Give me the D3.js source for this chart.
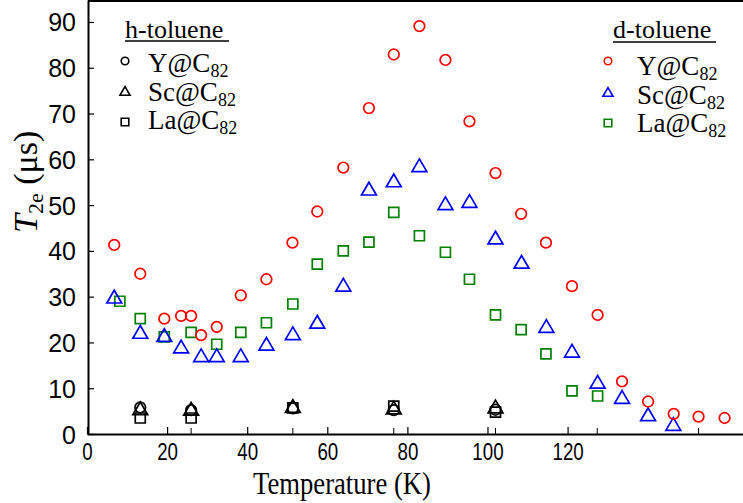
<!DOCTYPE html>
<html><head><meta charset="utf-8">
<script src="https://cdn.jsdelivr.net/npm/d3@7"></script>
<style>
html,body{margin:0;padding:0;background:#fff;}
svg{display:block;}
</style></head>
<body>
<svg id="chart" width="743" height="503"></svg>
<script>
// ---- data (temperature values as read on the labelled axis) ----
const xTicks = [0, 20, 40, 60, 80, 100, 120];
const yTicks = [0, 10, 20, 30, 40, 50, 60, 70, 80, 90];
const ghostTicks = [26.0, 51.4, 76.6, 102.0, 127.4, 152.7];

const dY_T = [6.8,13.3,19.3,23.5,26.0,28.5,32.4,38.4,44.8,51.3,57.5,64.0,70.4,76.6,83.0,89.5,95.5,102.0,108.4,114.6,121.1,127.5,133.6,140.1,146.5,152.7,159.2];
const dY_V = [41.3,35.0,25.2,25.8,25.8,21.6,23.4,30.3,33.8,41.8,48.6,58.2,71.2,82.9,89.1,81.7,68.3,57.0,48.1,41.8,32.3,26.0,11.5,7.1,4.4,3.8,3.5];

const dSc_T = [6.8,13.3,19.3,23.5,28.5,32.4,38.4,44.8,51.4,57.5,64.0,70.4,76.6,83.0,89.5,95.5,102.0,108.5,114.7,121.1,127.5,133.6,140.1,146.4];
const dSc_V = [30.0,22.3,21.6,19.1,17.2,17.2,17.2,19.7,22.0,24.5,32.6,53.6,55.4,58.7,50.4,50.9,42.9,37.6,23.6,18.2,11.4,8.1,4.3,2.2];

const dLa_T = [8.2,13.3,19.3,26.0,32.4,38.4,44.8,51.4,57.5,64.0,70.4,76.6,83.0,89.5,95.5,102.0,108.4,114.6,121.1,127.5];
const dLa_V = [29.0,25.2,21.2,22.2,19.6,22.2,24.3,28.4,37.1,40.0,41.9,48.4,43.3,39.7,33.8,26.0,22.8,17.5,9.4,8.3];

const h_T = [13.3, 26.0, 51.4, 76.6, 102.0];
const hY_V = [5.8, 5.2, 5.6, 5.2, 5.3];
const hSc_V = [5.6, 5.5, 6.1, 5.8, 6.0];
const hLa_V = [3.5, 3.5, 5.7, 6.1, 4.8];

const legendNames = ["Y", "Sc", "La"];
const shapes = ["circle", "triangle", "square"];
const dColors = ["#ff0000", "#0000ff", "#008000"];

// ---- drawing ----
const svg = d3.select("#chart");
const x = d3.scaleLinear().domain([0, 163.8]).range([87, 743]);
const y = d3.scaleLinear().domain([0, 94.8]).range([434, 0]);
const serif = "'Liberation Serif', 'Times New Roman', serif";
const sans = "'Liberation Sans', Arial, Helvetica, sans-serif";

function shapePath(kind, s) {
  const p = d3.path();
  if (kind === "circle") { p.moveTo(s, 0); p.arc(0, 0, s, 0, 2 * Math.PI); }
  else if (kind === "square") { p.rect(-s, -s, 2 * s, 2 * s); }
  else { const w = s * 1.4, h = s * 1.2; p.moveTo(0, -h); p.lineTo(w, h); p.lineTo(-w, h); p.closePath(); }
  return p.toString();
}
const sizes = {circle: 5.3, square: 5.0, triangle: 5.3};

// axes
const gx = svg.append("g").attr("transform", "translate(0,434)")
  .call(d3.axisBottom(x).tickValues(xTicks).tickSizeInner(-7).tickSizeOuter(0).tickPadding(0).tickFormat(d3.format("d")));
gx.select(".domain").attr("stroke", "#000").attr("stroke-width", 2);
gx.selectAll(".tick line").attr("stroke", "#000").attr("stroke-width", 1.2);
gx.selectAll(".tick text").remove();
gx.selectAll(".tick").append("text")
  .attr("transform", "translate(0,25.5) scale(0.78,1)")
  .attr("text-anchor", "middle").attr("fill", "#000")
  .style("font-family", sans).style("font-size", "24px")
  .text(d => d);

// ghost ticks from the underlying plot
svg.append("g").selectAll("line").data(ghostTicks).join("line")
  .attr("x1", d => x(d)).attr("x2", d => x(d)).attr("y1", 428).attr("y2", 434)
  .attr("stroke", "#000").attr("stroke-width", 1);

const gy = svg.append("g").attr("transform", "translate(88,0)")
  .call(d3.axisLeft(y).tickValues(yTicks).tickSizeInner(-6).tickSizeOuter(0).tickPadding(12).tickFormat(d3.format("d")));
gy.select(".domain").attr("stroke", "#000").attr("stroke-width", 2);
gy.selectAll(".tick line").attr("stroke", "#000").attr("stroke-width", 1.2);
gy.selectAll(".tick text").attr("fill", "#000").attr("dy", "0.36em")
  .style("font-family", sans).style("font-size", "25px");

// top frame line
svg.append("line").attr("x1", 88).attr("x2", 743).attr("y1", 1).attr("y2", 1)
  .attr("stroke", "#000").attr("stroke-width", 2);

// axis titles
svg.append("text").attr("x", 342).attr("y", 494).attr("text-anchor", "middle")
  .attr("textLength", 178).attr("lengthAdjust", "spacingAndGlyphs")
  .style("font-family", serif).style("font-size", "32px").attr("fill", "#000")
  .text("Temperature (K)");

const yl = svg.append("text").attr("transform", "translate(37,233) rotate(-90)")
  .attr("text-anchor", "start").style("font-family", serif).attr("fill", "#000");
yl.append("tspan").style("font-style", "italic").style("font-size", "34px").text("T");
yl.append("tspan").style("font-size", "22px").attr("dy", 6).text("2e");
yl.append("tspan").style("font-size", "34px").attr("dy", -6).text(" (μs)");

// data
function drawSeries(T, V, kind, color) {
  svg.append("g").selectAll("path").data(T.map((t, i) => [t, V[i]])).join("path")
    .attr("d", shapePath(kind, sizes[kind]))
    .attr("transform", d => `translate(${x(d[0])},${y(d[1])})`)
    .attr("fill", "none").attr("stroke", color).attr("stroke-width", 1.7);
}
drawSeries(dLa_T, dLa_V, "square", dColors[2]);
drawSeries(dSc_T, dSc_V, "triangle", dColors[1]);
drawSeries(dY_T, dY_V, "circle", dColors[0]);
drawSeries(h_T, hLa_V, "square", "#000");
drawSeries(h_T, hSc_V, "triangle", "#000");
drawSeries(h_T, hY_V, "circle", "#000");

// legends
function legend(title, tx, ty, ulx1, ulx2, uly, mx, my, textX, baseY, colors) {
  svg.append("text").attr("x", tx).attr("y", ty).style("font-family", serif)
    .style("font-size", "26px").attr("fill", "#000").text(title);
  svg.append("line").attr("x1", ulx1).attr("x2", ulx2).attr("y1", uly).attr("y2", uly)
    .attr("stroke", "#000").attr("stroke-width", 1.3);
  legendNames.forEach((n, i) => {
    const k = shapes[i];
    svg.append("path").attr("d", shapePath(k, k === "triangle" ? 3.6 : 3.8))
      .attr("transform", `translate(${mx},${my[i]})`)
      .attr("fill", "none").attr("stroke", colors[i]).attr("stroke-width", 1.6);
    const t = svg.append("text").attr("x", textX).attr("y", baseY + i * 28.5)
      .style("font-family", serif).style("font-size", "27px").attr("fill", "#000");
    t.append("tspan").text(n + "@C");
    t.append("tspan").style("font-size", "18px").attr("dy", 5).text("82");
  });
}
legend("h-toluene", 125, 38, 125, 229, 41, 125, [61, 91, 122], 148, 72, ["#000", "#000", "#000"]);
legend("d-toluene", 613, 38, 613, 716, 42, 608, [61, 92, 123], 637, 75, dColors);
</script>
</body></html>
